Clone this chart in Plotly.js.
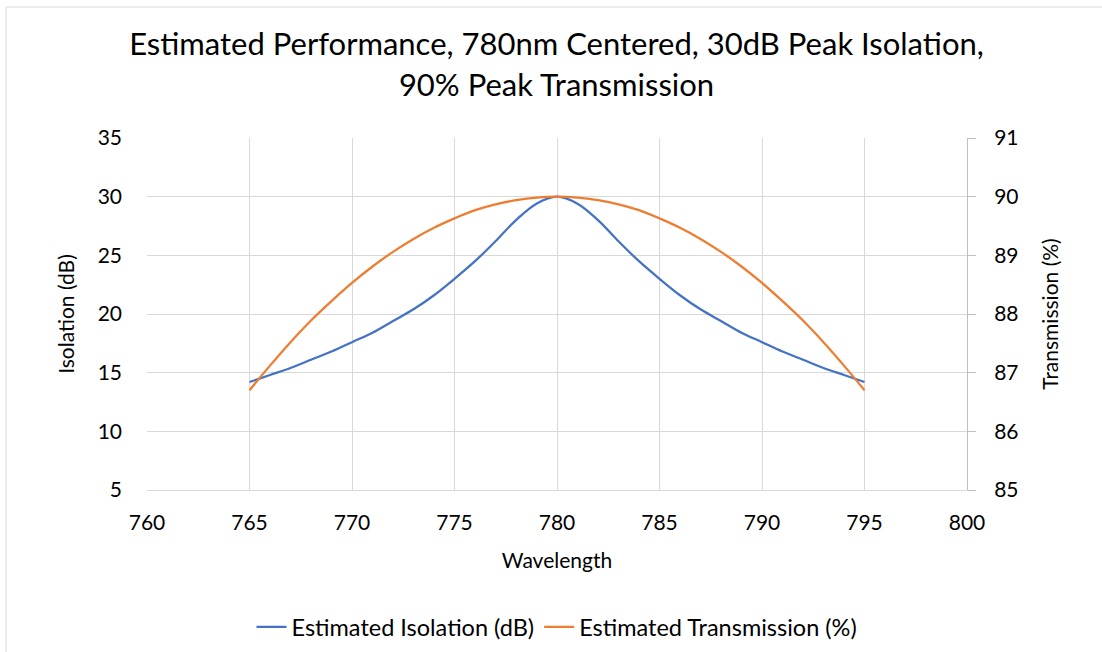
<!DOCTYPE html>
<html><head><meta charset="utf-8">
<script src="https://cdn.plot.ly/plotly-3.0.1.min.js"></script>
<style>html,body{margin:0;padding:0;background:#fff}#chart{width:1102px;height:652px}</style>
</head><body><div id="chart"></div>
<script>
const wavelength = [765,766,767,768,769,770,771,772,773,774,775,776,777,778,779,780,781,782,783,784,785,786,787,788,789,790,791,792,793,794,795];
const isolationDb = [14.2,14.8,15.4,16.1,16.8,17.6,18.4,19.4,20.4,21.6,23.0,24.5,26.2,28.0,29.4,30.0,29.4,28.0,26.2,24.5,23.0,21.6,20.4,19.4,18.4,17.6,16.8,16.1,15.4,14.8,14.2];
const transmissionPct = [86.70,87.12,87.52,87.89,88.22,88.53,88.81,89.06,89.28,89.47,89.63,89.77,89.87,89.94,89.985,90.0,89.985,89.94,89.87,89.77,89.63,89.47,89.28,89.06,88.81,88.53,88.22,87.89,87.52,87.12,86.70];
const xTicks = [760,765,770,775,780,785,790,795,800];

const font = "Lato, 'Open Sans', sans-serif";
const traces = [
  {x: wavelength, y: isolationDb, name: 'Estimated Isolation (dB)', type: 'scatter', mode: 'lines',
   line: {color: '#4472C4', width: 2.25, shape: 'spline', smoothing: 1}, yaxis: 'y'},
  {x: wavelength, y: transmissionPct, name: 'Estimated Transmission (%)', type: 'scatter', mode: 'lines',
   line: {color: '#ED7D31', width: 2.25, shape: 'spline', smoothing: 1}, yaxis: 'y2'}
];
const layout = {
  width: 1102, height: 652,
  margin: {l: 147, r: 135, t: 138, b: 162},
  paper_bgcolor: '#fff', plot_bgcolor: '#fff',
  font: {family: font, size: 21, color: '#000'},
  title: {text: 'Estimated Performance, 780nm Centered, 30dB Peak Isolation,<br>90% Peak Transmission',
          font: {family: font, size: 31, color: '#000'}, x: 0.505, xanchor: 'center', y: 0.915, yanchor: 'top'},
  xaxis: {range: [760, 800], tickvals: xTicks, showgrid: true, gridcolor: '#d9d9d9', gridwidth: 1, automargin: false,
          zeroline: false, showline: true, linecolor: '#d9d9d9', ticks: '', ticklabelstandoff: 14,
          title: {text: 'Wavelength', font: {size: 21}, standoff: 20}, tickfont: {size: 21}},
  yaxis: {range: [5, 35], dtick: 5, tick0: 5, showgrid: true, gridcolor: '#d9d9d9', zeroline: false, automargin: false,
          showline: false, ticks: '', ticklabelstandoff: 24,
          title: {text: 'Isolation (dB)', font: {size: 21}, standoff: 17}, tickfont: {size: 21}},
  yaxis2: {range: [85, 91], dtick: 1, tick0: 85, overlaying: 'y', side: 'right', showgrid: false, zeroline: false, automargin: false,
           showline: true, linecolor: '#bfbfbf', ticks: 'outside', ticklen: 8, tickcolor: '#bfbfbf', ticklabelstandoff: 14,
           title: {text: 'Transmission (%)', font: {size: 21}, standoff: 25}, tickfont: {size: 21}},
  showlegend: true,
  legend: {orientation: 'h', x: 0.5, xanchor: 'center', xref: 'paper', y: 1 - 627/652, yref: 'container', yanchor: 'middle',
           font: {size: 23.5}, itemwidth: 30, traceorder: 'normal'},
  shapes: [
    {type: 'line', xref: 'paper', yref: 'paper', x0: (6-147)/820, x1: (6-147)/820, y0: -1, y1: 1 + (138-7)/352, line: {color: '#d9d9d9', width: 1}},
    {type: 'line', xref: 'paper', yref: 'paper', x0: (6-147)/820, x1: 1.3, y0: 1 + (138-7)/352, y1: 1 + (138-7)/352, line: {color: '#d9d9d9', width: 1}}
  ]
};
Plotly.newPlot('chart', traces, layout, {displayModeBar: false, staticPlot: true});
</script></body></html>
